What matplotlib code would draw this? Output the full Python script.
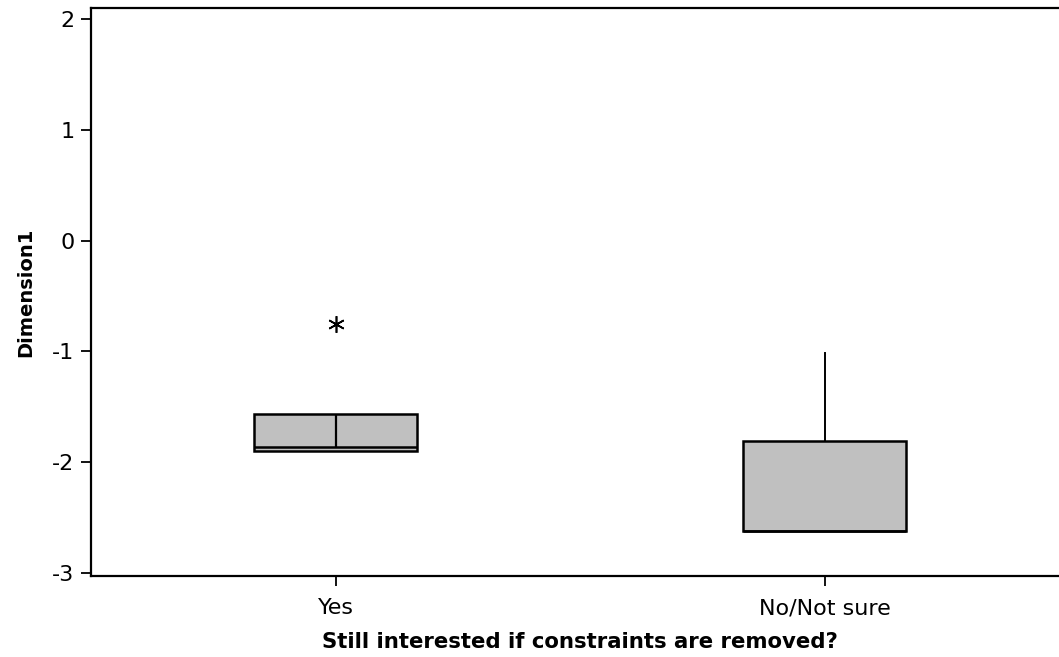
import matplotlib
matplotlib.use("Agg")
import matplotlib.pyplot as plt

categories = ["Yes", "No/Not sure"]
q1 = [-1.90, -2.62]
median = [-1.865, -2.62]
q3 = [-1.565, -1.81]
whisker_low = [-1.90, -2.62]
whisker_high = [-1.565, -1.02]
outliers = [[-0.755], []]
inner_line = [(-1.865, -1.565), None]  # short vertical segment inside the Yes box

y_ticks = [-3, -2, -1, 0, 1, 2]
x_label = "Still interested if constraints are removed?"
y_label = "Dimension1"

plt.rcParams['font.family'] = ['DejaVu Sans']

fig = plt.figure(figsize=(10.59, 6.57), dpi=100)
ax = fig.add_axes([91/1059, (657-576)/657, (1069-91)/1059, (576-8)/657])

positions = [1, 2]
stats = []
for i, c in enumerate(categories):
    stats.append(dict(label=c, q1=q1[i], med=median[i], q3=q3[i],
                      whislo=whisker_low[i], whishi=whisker_high[i],
                      fliers=outliers[i]))

ax.bxp(stats, positions=positions, widths=0.335, patch_artist=True,
       showcaps=False,
       boxprops=dict(facecolor="#C0C0C0", edgecolor="black", linewidth=1.8),
       medianprops=dict(color="black", linewidth=1.8),
       whiskerprops=dict(color="black", linewidth=1.4),
       flierprops=dict(marker=(6, 2, 0), markersize=12, markeredgecolor="black",
                       markeredgewidth=1.2, linestyle="none"))

for i, seg in enumerate(inner_line):
    if seg is not None:
        ax.vlines(positions[i], seg[0], seg[1], color="black", linewidth=1.6, zorder=4)

ax.set_xlim(0.5, 2.5)
ax.set_ylim(-3.03, 2.1)
ax.set_yticks(y_ticks)
ax.set_yticklabels([str(t) for t in y_ticks])
ax.set_xticks(positions)
ax.set_xticklabels(categories)

ax.spines["right"].set_visible(False)
for s in ["left", "bottom", "top"]:
    ax.spines[s].set_linewidth(1.6)
ax.tick_params(axis="both", direction="out", length=7, width=1.3, labelsize=16, pad=5)
ax.tick_params(axis="x", pad=9)

ax.set_xlabel(x_label, fontsize=15.3, fontweight="bold", labelpad=10)
ax.set_ylabel(y_label, fontsize=14, fontweight="bold", labelpad=12)

fig.savefig("out.png", dpi=100)
